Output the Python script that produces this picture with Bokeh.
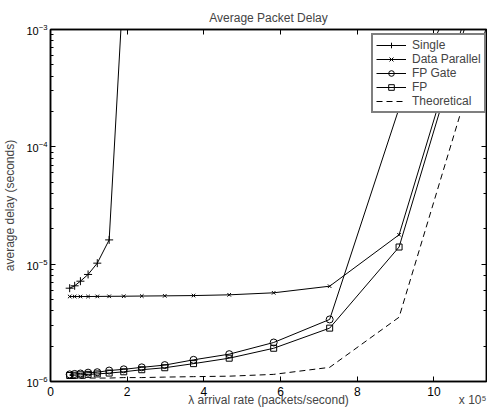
from bokeh.plotting import figure
from bokeh.models import (Range1d, LinearAxis, LogAxis, FixedTicker, LogTicker,
                          Legend, LegendItem, Title, CustomJSTickFormatter)
from bokeh.embed import file_html
from bokeh.resources import INLINE

# arrival rate, in units of 1e5 packets/second
rate = [0.50, 0.63, 0.78, 0.98, 1.22, 1.53, 1.91, 2.38, 2.98, 3.73, 4.66, 5.82, 7.28, 9.09, 11.37]

single = [6.24e-6, 6.54e-6, 7.16e-6, 8.17e-6, 1.02e-5, 1.61e-5, 2.7e-3]
data_parallel = [5.30e-6, 5.30e-6, 5.30e-6, 5.30e-6, 5.31e-6, 5.32e-6, 5.33e-6, 5.35e-6,
                 5.37e-6, 5.40e-6, 5.48e-6, 5.70e-6, 6.49e-6, 1.78e-5, 5.1e-3]
fp_gate = [1.15e-6, 1.16e-6, 1.17e-6, 1.19e-6, 1.20e-6, 1.24e-6, 1.27e-6, 1.32e-6,
           1.38e-6, 1.53e-6, 1.71e-6, 2.15e-6, 3.38e-6, 2.13e-4, 6.2e-3]
fp = [1.125e-6, 1.13e-6, 1.14e-6, 1.15e-6, 1.16e-6, 1.18e-6, 1.21e-6, 1.26e-6,
      1.31e-6, 1.42e-6, 1.58e-6, 1.92e-6, 2.85e-6, 1.40e-5, 4.3e-3]
theoretical = [1.06e-6, 1.06e-6, 1.06e-6, 1.07e-6, 1.07e-6, 1.07e-6, 1.08e-6, 1.08e-6,
               1.09e-6, 1.10e-6, 1.11e-6, 1.15e-6, 1.32e-6, 3.53e-6, 1.05e-3]

x_ticks = [0, 2, 4, 6, 8, 10]
FONT = "Liberation Sans"

p = figure(width=487, height=410, output_backend="svg", toolbar_location=None,
           x_range=Range1d(0, 11.37), y_range=Range1d(1e-6, 1e-3), y_axis_type="log",
           min_border_left=47, min_border_right=1, min_border_top=29, min_border_bottom=29,
           title="Average Packet Delay")
p.title.align = "center"
p.title.text_font = FONT
p.title.text_font_size = "12px"
p.title.text_font_style = "normal"
p.title.standoff = 10
p.grid.visible = False
p.outline_line_color = "black"
p.outline_line_width = 1.5

blank = CustomJSTickFormatter(code="return ''")

def style_axis(ax, labels=True):
    ax.axis_line_width = 1.5
    ax.major_tick_in = 5
    ax.major_tick_out = 0
    ax.minor_tick_in = 3
    ax.minor_tick_out = 0
    ax.major_label_text_font = FONT
    ax.major_label_text_color = "black"
    ax.axis_label_text_font = FONT
    ax.axis_label_text_font_style = "normal"
    ax.axis_label_text_font_size = "12px"
    if not labels:
        ax.formatter = blank
        ax.major_label_text_font_size = "1px"
        ax.major_label_standoff = 0

xa = p.xaxis[0]
xa.ticker = FixedTicker(ticks=x_ticks)
xa.minor_tick_line_color = None
style_axis(xa)
xa.major_label_text_font_size = "12px"
xa.major_label_standoff = 5

ya = p.yaxis[0]
ya.axis_label = "average delay (seconds)"
style_axis(ya)
ya.major_label_text_font_size = "11px"
ya.major_label_standoff = 3
ya.axis_label_standoff = 6

top = LinearAxis(ticker=FixedTicker(ticks=x_ticks))
style_axis(top, labels=False)
top.minor_tick_line_color = None
p.add_layout(top, "above")

right = LogAxis(ticker=LogTicker())
style_axis(right, labels=False)
p.add_layout(right, "right")

n = len(single)
items = []
r1 = p.line(rate[:n], single, color="black", line_width=1)
m1 = p.scatter(rate[:n], single, marker="cross", size=8, line_color="black", line_width=1)
items.append(LegendItem(label="Single", renderers=[r1, m1]))

r2 = p.line(rate, data_parallel, color="black", line_width=1)
m2 = p.scatter(rate, data_parallel, marker="x", size=5, line_color="black", line_width=1)
items.append(LegendItem(label="Data Parallel", renderers=[r2, m2]))

r3 = p.line(rate, fp_gate, color="black", line_width=1)
m3 = p.scatter(rate, fp_gate, marker="circle", size=7, line_color="black",
               fill_color=None, line_width=1)
items.append(LegendItem(label="FP Gate", renderers=[r3, m3]))

r4 = p.line(rate, fp, color="black", line_width=1)
m4 = p.scatter(rate, fp, marker="square", size=6, line_color="black",
               fill_color=None, line_width=1)
items.append(LegendItem(label="FP", renderers=[r4, m4]))

r5 = p.line(rate, theoretical, color="black", line_width=1, line_dash="6 4")
items.append(LegendItem(label="Theoretical", renderers=[r5]))

legend = Legend(items=items, location=(321, 268), margin=0, padding=3, spacing=0,
                glyph_width=30, glyph_height=14, label_height=14, label_standoff=6,
                label_text_font=FONT, label_text_font_size="12px",
                border_line_color="black", border_line_width=2,
                background_fill_color="white", background_fill_alpha=1.0)
p.add_layout(legend, "center")

# "x 10^5" scale note at the lower right, then the x-axis caption, below the tick labels
scale_note = Title(text="x 10\u2075", align="right", text_font=FONT,
                   text_font_size="12px", text_font_style="normal", standoff=-17)
p.add_layout(scale_note, "below")
x_caption = Title(text="λ arrival rate (packets/second)", align="center", text_font=FONT,
                  text_font_size="12px", text_font_style="normal", standoff=-15)
p.add_layout(x_caption, "below")

open("out.html", "w").write(file_html(p, INLINE))
